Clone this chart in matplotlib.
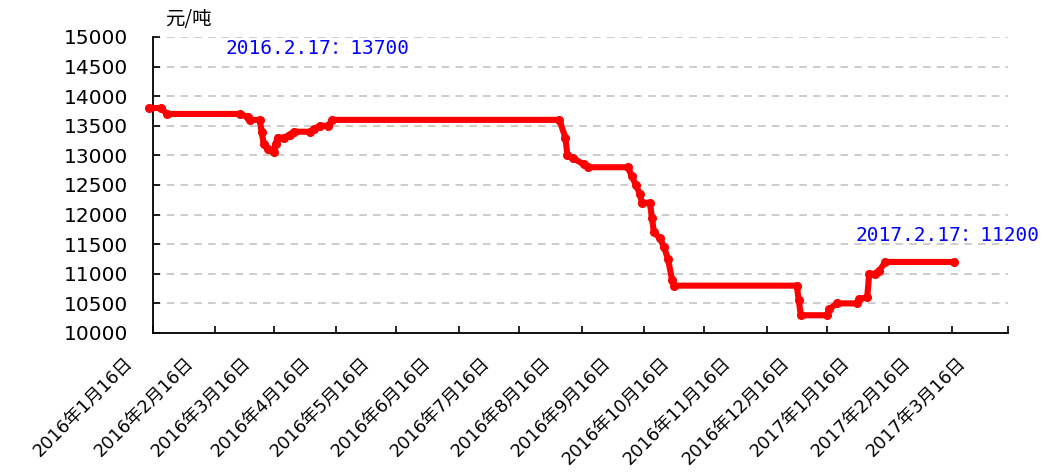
import matplotlib
matplotlib.use('Agg')
import matplotlib.pyplot as plt
import matplotlib.transforms as mtransforms
import pandas as pd

plt.rcParams['font.family'] = ['DejaVu Sans', 'Noto Sans CJK SC']

# price breakpoints (yuan / ton)
dates = [
    '2016-01-14', '2016-01-20', '2016-01-23', '2016-02-28', '2016-03-03',
    '2016-03-04', '2016-03-09', '2016-03-10', '2016-03-11', '2016-03-13',
    '2016-03-16', '2016-03-17', '2016-03-18', '2016-03-21', '2016-03-24',
    '2016-03-26', '2016-04-03', '2016-04-05', '2016-04-08', '2016-04-12',
    '2016-04-14', '2016-08-05', '2016-08-08', '2016-08-09', '2016-08-12',
    '2016-08-17', '2016-08-19', '2016-09-08', '2016-09-10', '2016-09-12',
    '2016-09-14', '2016-09-15', '2016-09-19', '2016-09-20', '2016-09-21',
    '2016-09-24', '2016-09-26', '2016-09-28', '2016-09-30', '2016-10-01',
    '2016-12-01', '2016-12-02', '2016-12-03', '2016-12-16', '2016-12-17',
    '2016-12-21', '2016-12-31', '2017-01-01', '2017-01-05', '2017-01-06',
    '2017-01-09', '2017-01-11', '2017-01-14', '2017-02-17',
]
prices = [
    13800, 13800, 13700, 13700, 13650,
    13600, 13600, 13400, 13200, 13100,
    13050, 13200, 13300, 13300, 13350,
    13400, 13400, 13450, 13500, 13500,
    13600, 13600, 13300, 13000, 12950,
    12850, 12800, 12800, 12650, 12500,
    12350, 12200, 12200, 11950, 11700,
    11600, 11450, 11250, 10900, 10800,
    10800, 10550, 10300, 10300, 10400,
    10500, 10500, 10580, 10600, 11000,
    11000, 11050, 11200, 11200,
]
tick_dates = pd.date_range('2016-01-01', '2017-03-01', freq='MS') + pd.Timedelta(days=15)
tick_labels = [f'{d.year}年{d.month}月16日' for d in tick_dates]
y_ticks = list(range(10000, 15001, 500))

notes = [('2016.2.17：13700', '2016-02-21', 14810),
         ('2017.2.17：11200', '2016-12-30', 11655)]

x = pd.to_datetime(dates)

fig = plt.figure(figsize=(10.47, 4.75), dpi=100)
ax = fig.add_axes([153/1047, 1 - 333/475, (1008 - 153)/1047, (333 - 37)/475])

ax.plot(x, prices, color='#FF0000', lw=4.4, marker='o', ms=5.5,
        solid_joinstyle='miter', zorder=3, clip_on=False)

ax.set_xlim(pd.Timestamp('2016-01-16'), pd.Timestamp('2017-03-16'))
ax.set_ylim(10000, 15000)
ax.set_yticks(y_ticks)
ax.set_yticklabels([str(v) for v in y_ticks], fontsize=14.5)
ax.set_xticks(tick_dates)
ax.set_xticklabels(tick_labels, rotation=45, ha='right', va='center',
                   rotation_mode='anchor', fontsize=12.8)

ax.tick_params(axis='both', direction='in', length=5, width=1.2, color='black')
ax.tick_params(axis='y', pad=18)
ax.tick_params(axis='x', pad=0)

# shift rotated date labels down-left like the original
n = len(tick_labels)
for i, lab in enumerate(ax.get_xticklabels()):
    dx = -(23 + 22 * i / (n - 1)) / 100
    lab.set_transform(lab.get_transform() +
                      mtransforms.ScaledTranslation(dx, -27/100, fig.dpi_scale_trans))

for s in ['top', 'right']:
    ax.spines[s].set_visible(False)
for s in ['left', 'bottom']:
    ax.spines[s].set_linewidth(1.3)

ax.grid(axis='y', color='#BFBFBF', linestyle=(0, (5, 4)), lw=1.1)
ax.set_axisbelow(True)

for txt, d, v in notes:
    ax.text(pd.Timestamp(d), v, txt, color='#0000FF', fontsize=14, va='center',
            family=['DejaVu Sans Mono', 'Noto Sans CJK SC'])

fig.text(165/1047, 1 - 20/475, '元/吨', fontsize=14, va='center', ha='left',
         family=['Noto Sans CJK SC', 'DejaVu Sans'])

fig.savefig('out.png', dpi=100)
